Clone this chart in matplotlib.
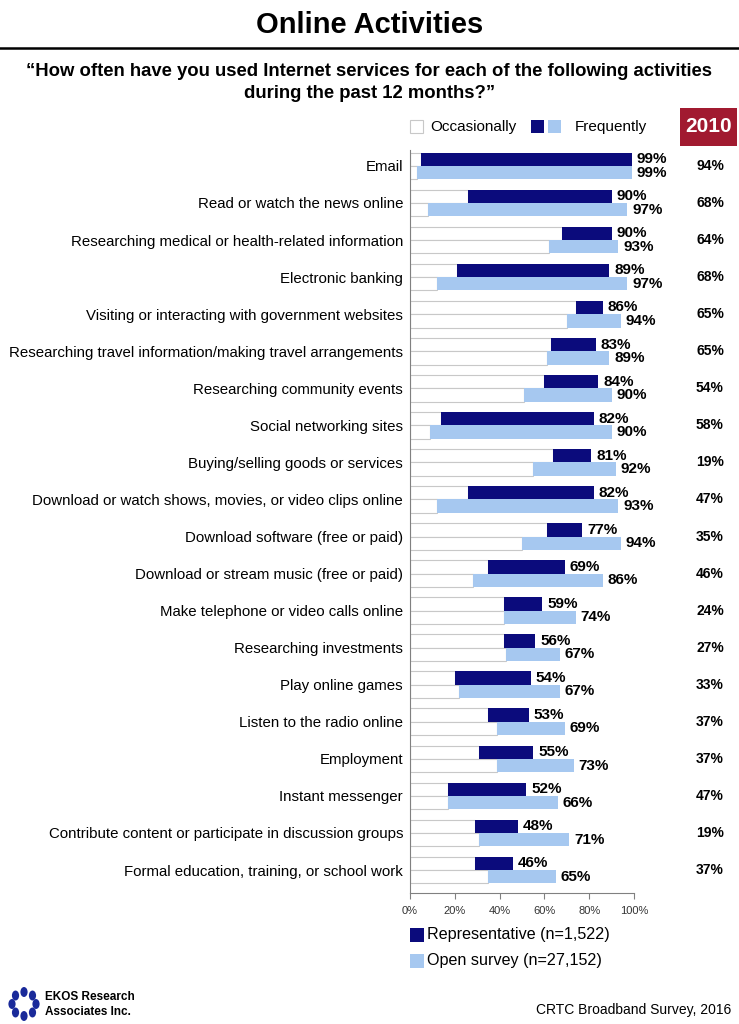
import numpy as np
import matplotlib
matplotlib.use("Agg")
import matplotlib.pyplot as plt
import matplotlib.transforms as mtransforms
from matplotlib.patches import Rectangle, Circle

plt.rcParams['font.family'] = ['Liberation Sans', 'DejaVu Sans']

categories = [
    "Email",
    "Read or watch the news online",
    "Researching medical or health-related information",
    "Electronic banking",
    "Visiting or interacting with government websites",
    "Researching travel information/making travel arrangements",
    "Researching community events",
    "Social networking sites",
    "Buying/selling goods or services",
    "Download or watch shows, movies, or video clips online",
    "Download software (free or paid)",
    "Download or stream music (free or paid)",
    "Make telephone or video calls online",
    "Researching investments",
    "Play online games",
    "Listen to the radio online",
    "Employment",
    "Instant messenger",
    "Contribute content or participate in discussion groups",
    "Formal education, training, or school work",
]
rep_total = [99, 90, 90, 89, 86, 83, 84, 82, 81, 82, 77, 69, 59, 56, 54, 53, 55, 52, 48, 46]
open_total = [99, 97, 93, 97, 94, 89, 90, 90, 92, 93, 94, 86, 74, 67, 67, 69, 73, 66, 71, 65]
rep_occasional = [5, 26, 68, 21, 74, 63, 60, 14, 64, 26, 61, 35, 42, 42, 20, 35, 31, 17, 29, 29]
open_occasional = [3, 8, 62, 12, 70, 61, 51, 9, 55, 12, 50, 28, 42, 43, 22, 39, 39, 17, 31, 35]
values_2010 = [94, 68, 64, 68, 65, 65, 54, 58, 19, 47, 35, 46, 24, 27, 33, 37, 37, 47, 19, 37]
x_ticks = [0, 20, 40, 60, 80, 100]

NAVY = '#0b0b7c'
LIGHT = '#a6c8f0'
RED = '#a11a30'
EDGE = '#c8c8c8'

W, H = 739, 1024
fig = plt.figure(figsize=(W / 100, H / 100), dpi=100)

def fx(px):
    return px / W

def fy(py):
    return 1 - py / H

ax = fig.add_axes([fx(410), fy(893), fx(634) - fx(410), fy(150) - fy(893)])

rep_total = np.array(rep_total)
open_total = np.array(open_total)
rep_occ = np.array(rep_occasional)
open_occ = np.array(open_occasional)
rep_freq = rep_total - rep_occ
open_freq = open_total - open_occ

y = np.arange(len(categories))
bh = 0.36
ax.barh(y - bh / 2, rep_occ, height=bh, color='white', edgecolor=EDGE, linewidth=0.8)
ax.barh(y + bh / 2, open_occ, height=bh, color='white', edgecolor=EDGE, linewidth=0.8)
ax.barh(y - bh / 2, rep_freq, left=rep_occ, height=bh, color=NAVY, linewidth=0)
ax.barh(y + bh / 2, open_freq, left=open_occ, height=bh, color=LIGHT, linewidth=0)

col_tr = mtransforms.blended_transform_factory(fig.transFigure, ax.transData)
for i in range(len(categories)):
    ax.annotate(f"{rep_total[i]}%", (rep_total[i], y[i] - bh / 2), xytext=(3.5, 0),
                textcoords='offset points', va='center', ha='left', fontsize=11,
                fontweight='bold', annotation_clip=False)
    ax.annotate(f"{open_total[i]}%", (open_total[i], y[i] + bh / 2), xytext=(3.5, 0),
                textcoords='offset points', va='center', ha='left', fontsize=11,
                fontweight='bold', annotation_clip=False)
    ax.text(fx(710), y[i], f"{values_2010[i]}%", transform=col_tr,
            ha='center', va='center', fontsize=10, fontweight='bold')

ax.set_xlim(0, 100)
ax.set_ylim(19.62, -0.43)
ax.set_yticks(y)
ax.set_yticklabels(categories, fontsize=10.8)
ax.tick_params(axis='y', length=0, pad=5)
ax.set_xticks(x_ticks)
ax.set_xticklabels([f"{t}%" for t in x_ticks], fontsize=8, color='#333333')
ax.tick_params(axis='x', length=4, color='#808080', pad=5)
for s in ['top', 'right']:
    ax.spines[s].set_visible(False)
ax.spines['left'].set_color('#808080')
ax.spines['bottom'].set_color('#808080')

# Titles
fig.text(0.5, fy(25), "Online Activities", ha='center', va='center', fontsize=21, fontweight='bold')
fig.add_artist(plt.Line2D([0, 1], [fy(48), fy(48)], color='black', lw=1.8, transform=fig.transFigure))
fig.text(0.5, fy(72), "\u201cHow often have you used Internet services for each of the following activities",
         ha='center', va='center', fontsize=13.3, fontweight='bold')
fig.text(0.5, fy(94), "during the past 12 months?\u201d", ha='center', va='center', fontsize=13.3, fontweight='bold')

# top legend
fig.add_artist(Rectangle((fx(410), fy(133)), fx(13), 13 / H, transform=fig.transFigure,
                         facecolor='white', edgecolor=EDGE, lw=0.8))
fig.text(fx(430), fy(127), "Occasionally", ha='left', va='center', fontsize=11)
fig.add_artist(Rectangle((fx(531), fy(133)), fx(13), 13 / H, transform=fig.transFigure,
                         facecolor=NAVY, lw=0))
fig.add_artist(Rectangle((fx(548), fy(133)), fx(13), 13 / H, transform=fig.transFigure,
                         facecolor=LIGHT, lw=0))
fig.text(fx(575), fy(127), "Frequently", ha='left', va='center', fontsize=11)
fig.add_artist(Rectangle((fx(680), fy(146)), fx(57), 38 / H, transform=fig.transFigure,
                         facecolor=RED, lw=0))
fig.text(fx(708.5), fy(127), "2010", ha='center', va='center', fontsize=15, fontweight='bold', color='white')

# bottom legend
fig.add_artist(Rectangle((fx(410), fy(942)), fx(14), 14 / H, transform=fig.transFigure,
                         facecolor=NAVY, lw=0))
fig.text(fx(427), fy(935), "Representative (n=1,522)", ha='left', va='center', fontsize=11.6)
fig.add_artist(Rectangle((fx(410), fy(968)), fx(14), 14 / H, transform=fig.transFigure,
                         facecolor=LIGHT, lw=0))
fig.text(fx(427), fy(961), "Open survey (n=27,152)", ha='left', va='center', fontsize=11.6)

# footer
cx, cy, r = 24, 1004, 12
for k in range(8):
    a = 2 * np.pi * k / 8
    fig.add_artist(Circle((fx(cx + r * np.cos(a)), fy(cy + r * np.sin(a))), 3.6 / W,
                          transform=fig.transFigure, facecolor='#1a2a9a', lw=0))
fig.text(fx(45), fy(997), "EKOS Research", ha='left', va='center', fontsize=8.5, fontweight='bold')
fig.text(fx(45), fy(1012), "Associates Inc.", ha='left', va='center', fontsize=8.5, fontweight='bold')
fig.text(fx(731), fy(1010), "CRTC Broadband Survey, 2016", ha='right', va='center', fontsize=10)

fig.savefig("out.png", dpi=100)
